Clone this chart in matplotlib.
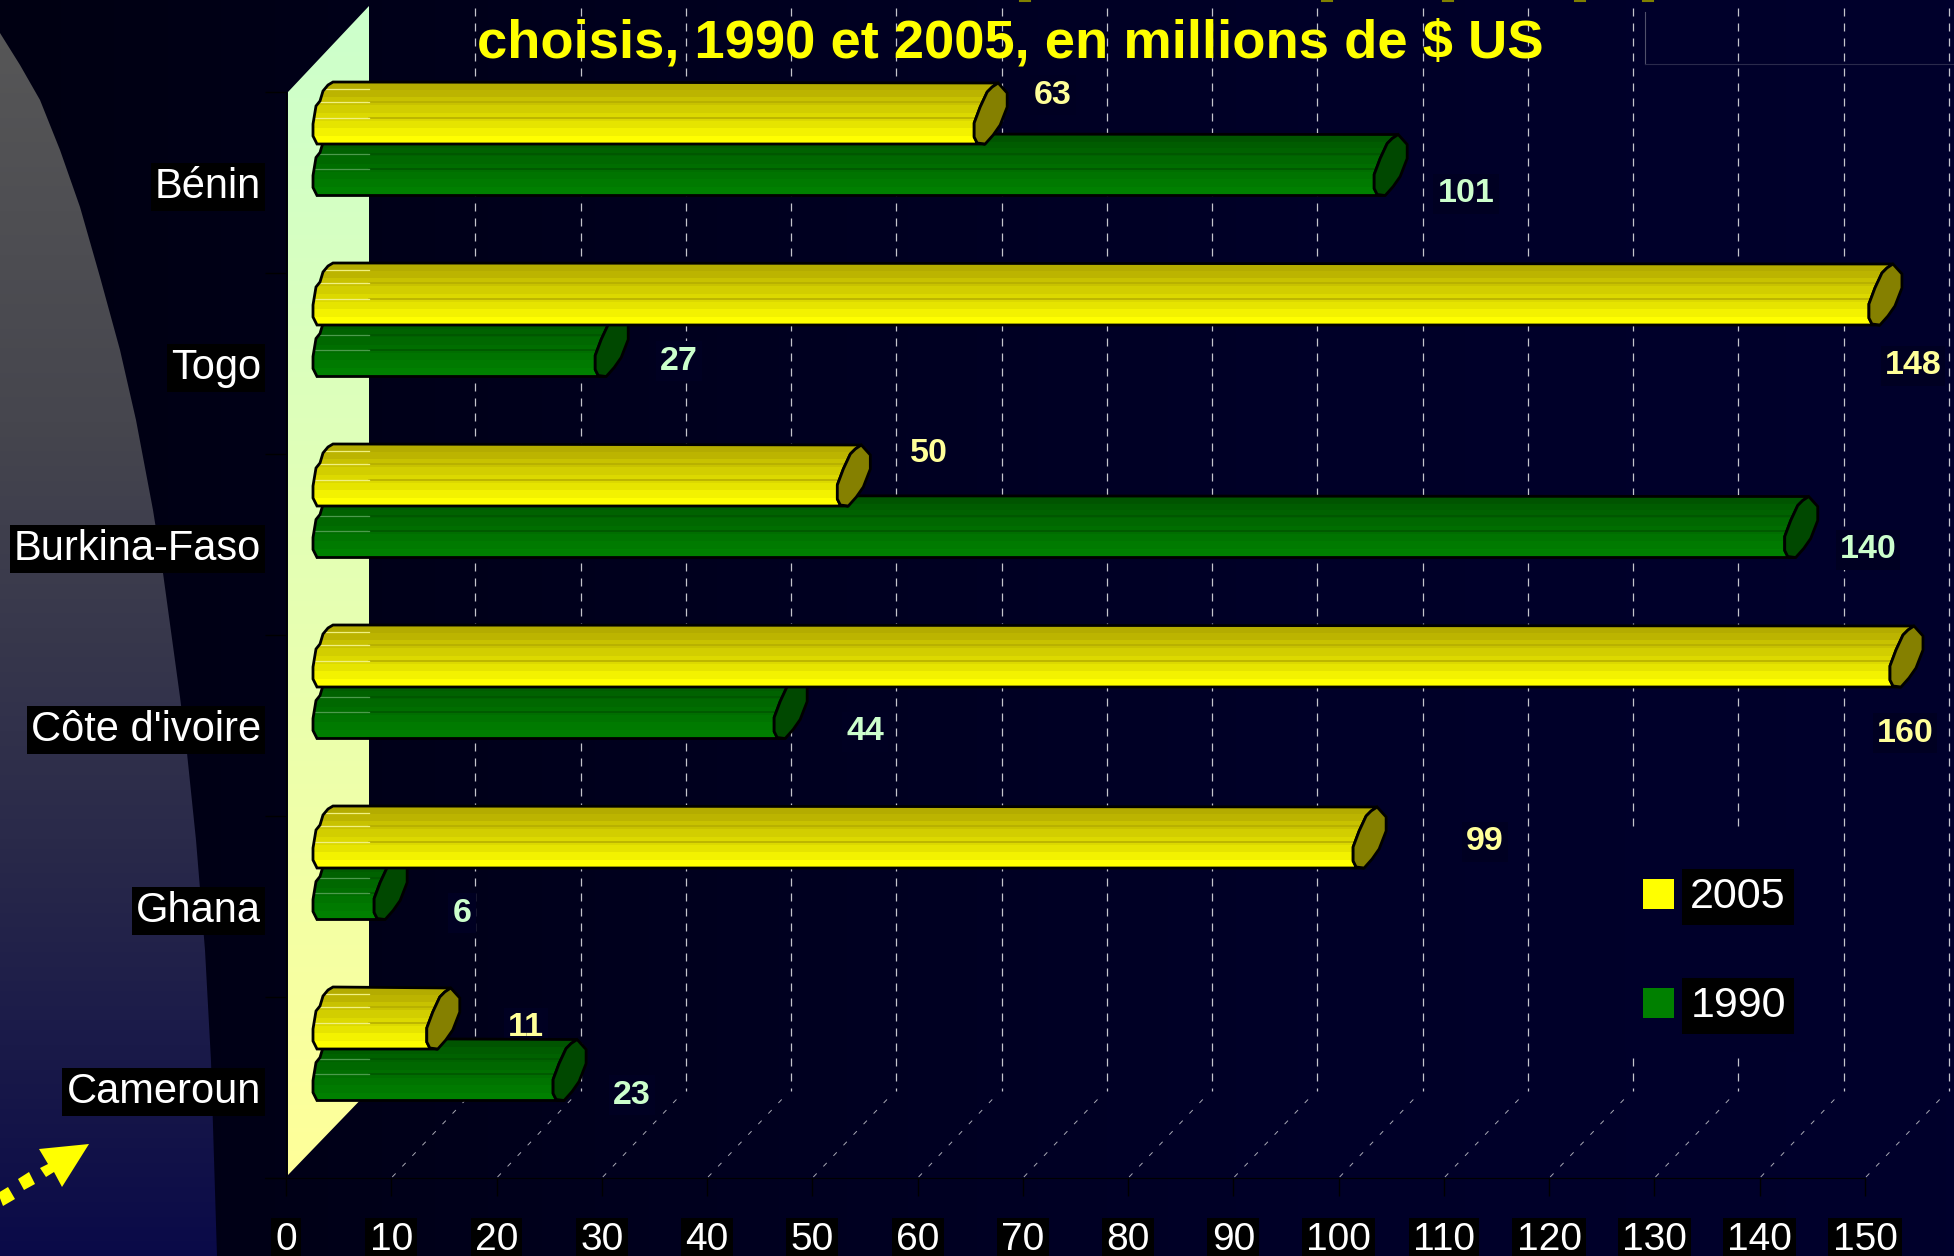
from __future__ import annotations

import matplotlib
matplotlib.use("Agg")

import matplotlib.pyplot as plt
import numpy as np
from matplotlib.colors import LinearSegmentedColormap, ListedColormap
from matplotlib.patches import Polygon
from matplotlib.ticker import FixedLocator


CATEGORIES = ["Bénin", "Togo", "Burkina-Faso", "Côte d'ivoire", "Ghana", "Cameroun"]
VALUES_2005 = [63, 148, 50, 160, 99, 11]
VALUES_1990 = [101, 27, 140, 44, 6, 23]
X_TICKS = list(range(0, 151, 10))
TITLE = "choisis, 1990 et 2005, en millions de $ US"

W, H = 1954, 1256
X0, X150 = 286, 1865
WALL_X = 288
Y_TOP, Y_BOT = 92, 1178
DEPTH_X, DEPTH_Y = 84, 86
PX_PER_UNIT = (X150 - X0) / 150
PX_PER_ROW = (Y_BOT - Y_TOP) / 6

# label centres, in pixels of the full picture
POS_2005 = [(1053, 95), (1913, 366), (929, 453), (1905, 733), (1485, 842), (526, 1028)]
POS_1990 = [(1466, 194), (679, 361), (1868, 550), (865, 732), (462, 913), (632, 1095)]

# cylinder outline, (dx, dy) in pixels from the bar's end / top
CAP = [(28, 61), (36, 62), (44, 53), (51, 43), (58, 25), (58, 11), (49, 1),
       (43, 5), (38, 10), (31, 25), (25, 41), (25, 55)]
LEFT = [(47, 0), (42, 3), (37, 9), (34, 19), (30, 24), (27, 42), (27, 54), (31, 62)]
STRIPE_LINES = [0.12, 0.33, 0.58]

YELLOWS = ["#b4ac00", "#bcb400", "#c8c200", "#d2ce00", "#dcd900", "#e6e400", "#f3f200", "#ffff00"]
GREENS = ["#005400", "#005c00", "#006200", "#006800", "#006e00", "#007400", "#007a00", "#008000"]

ARCH_EDGE = [(0, 33), (20, 65), (40, 100), (60, 150), (80, 207), (100, 277), (120, 350), (136, 420), (153, 510),
             (163, 573), (180, 697), (187, 753), (196, 840), (205, 950), (211, 1061), (217, 1256), (0, 1256)]

plt.rcParams["font.family"] = ["Liberation Sans", "DejaVu Sans"]

fig = plt.figure(figsize=(W / 100, H / 100), dpi=100)

# pixel layer behind the chart: background, grey arch, side wall, arrow
bg = fig.add_axes([0, 0, 1, 1])
bg.set_xlim(0, W)
bg.set_ylim(H, 0)
bg.axis("off")

bg_cmap = LinearSegmentedColormap.from_list("bg", ["#000012", "#00001e", "#000028", "#00002c"])
bg.imshow(np.linspace(0, 1, 256).reshape(1, -1), extent=(0, W, H, 0), cmap=bg_cmap, aspect="auto", zorder=0)

arch_cmap = LinearSegmentedColormap.from_list("arch", ["#585858", "#46464e", "#2a2a4a", "#0a0a48"])
arch_img = bg.imshow(np.linspace(0, 1, 256).reshape(-1, 1), extent=(0, 240, H, 0), cmap=arch_cmap, aspect="auto", zorder=1)
arch = Polygon(ARCH_EDGE, closed=True, transform=bg.transData, fc="none", ec="none")
bg.add_patch(arch)
arch_img.set_clip_path(arch)

wall_cmap = LinearSegmentedColormap.from_list("wall", ["#ccffcc", "#ffff99"])
wall_img = bg.imshow(np.linspace(0, 1, 256).reshape(-1, 1), extent=(WALL_X, WALL_X + DEPTH_X, Y_BOT, 6), cmap=wall_cmap,
                     aspect="auto", zorder=2)
wall = Polygon([(WALL_X, Y_TOP), (WALL_X + 81, 6), (WALL_X + 81, Y_BOT - 87), (WALL_X, Y_BOT - 3)], closed=True,
               transform=bg.transData, fc="none", ec="none")
bg.add_patch(wall)
wall_img.set_clip_path(wall)

bg.plot([1645, 1645], [12, 64], color="#50506a", lw=0.8, zorder=2)
bg.plot([1645, W], [64, 64], color="#2a2a4c", lw=0.8, zorder=2)

# bottoms of the letters of the cut-off line above the title
for x in [1025, 1327, 1448, 1580, 1648]:
    bg.plot([x - 5, x + 5], [0.5, 0.5], color="#808000", lw=1.5, zorder=2)

for shape in ([(89, 1144), (39, 1149), (48, 1164), (40, 1168), (46, 1177), (54, 1172), (62, 1187)],
              [(18, 1179), (29, 1172), (35, 1184), (24, 1190)],
              [(-2, 1193), (8, 1187), (15, 1199), (3, 1206)]):
    bg.add_patch(Polygon(shape, closed=True, fc="#ffff00", ec="none", zorder=3))

bg.set_xlim(0, W)
bg.set_ylim(H, 0)

# chart axes: front plane of the 3D box
ax = fig.add_axes([X0 / W, 1 - Y_BOT / H, (X150 - X0) / W, (Y_BOT - Y_TOP) / H])
ax.patch.set_alpha(0)
ax.set_xlim(0, 150)
ax.set_ylim(5.5, -0.5)


def dx(px):
    return px / PX_PER_UNIT


def dy(px):
    return px / PX_PER_ROW


# grid on the back wall and the floor
for tick in X_TICKS[1:]:
    ax.plot([tick + dx(DEPTH_X)] * 2, [-0.5 - dy(DEPTH_Y - 2), 5.5 - dy(DEPTH_Y + 1)], color="#c4c4cc", lw=0.9,
            dashes=(6.4, 5.6), clip_on=False, zorder=2)
    ax.plot([tick + dx(1), tick + dx(DEPTH_X - 7)], [5.5 - dy(1), 5.5 - dy(DEPTH_Y - 5)], color="#a8a8b4", lw=0.7,
            dashes=(5, 10), clip_on=False, zorder=2)


def draw_cylinder(value, top, colors, cap_color, light, order):
    # values past the end of the axis stop at the last tick
    end = min(value, X_TICKS[-1])
    height = 62
    pts = [(dx(x), top + dy(y)) for x, y in LEFT[::-1]]
    pts += [(end + dx(x), top + dy(y)) for x, y in CAP[6:] + CAP[:2]]
    outline = Polygon(pts, closed=True, transform=ax.transData)
    img = ax.imshow(np.arange(len(colors)).reshape(-1, 1), extent=(0, end + dx(60), top + dy(height), top),
                    cmap=ListedColormap(colors), aspect="auto", interpolation="nearest", zorder=order)
    img.set_clip_box(fig.bbox)
    img.set_clip_path(outline)
    for frac in STRIPE_LINES:
        line_y = top + dy(height * frac)
        line, = ax.plot([dx(83), end + dx(50)], [line_y, line_y], color=colors[0], lw=1.1, zorder=order + 0.1)
        line.set_clip_box(fig.bbox)
        line.set_clip_path(outline)
        line, = ax.plot([dx(20), dx(83)], [line_y, line_y], color=light, lw=0.9, zorder=order + 0.1)
        line.set_clip_box(fig.bbox)
        line.set_clip_path(outline)
    ax.add_patch(Polygon(pts, closed=True, fc="none", ec="black", lw=2, clip_on=False, zorder=order + 0.2))
    cap_pts = [(end + dx(x), top + dy(y)) for x, y in CAP]
    ax.add_patch(Polygon(cap_pts, closed=True, fc=cap_color, ec="black", lw=2, clip_on=False, zorder=order + 0.3))


for row in range(len(CATEGORIES)):
    draw_cylinder(VALUES_1990[row], row - dy(49), GREENS, "#004800", "#4c9a4c", 3 + row)
    draw_cylinder(VALUES_2005[row], row - dy(100.5), YELLOWS, "#858000", "#f0f080", 3.5 + row)

ax.set_xlim(0, 150)
ax.set_ylim(5.5, -0.5)

for spine in ["top", "right"]:
    ax.spines[spine].set_visible(False)
ax.spines["left"].set_color("black")
ax.spines["bottom"].set_color("black")
ax.spines["bottom"].set_bounds(-2, 150)

ax.set_xticks(X_TICKS, labels=[str(t) for t in X_TICKS])
ax.tick_params(axis="x", colors="black", length=13, width=1, pad=19, labelcolor="white", labelsize=28)
ax.yaxis.set_major_locator(FixedLocator(np.arange(-0.5, 6, 1)))
ax.set_yticks(range(len(CATEGORIES)), labels=CATEGORIES, minor=True)
ax.tick_params(axis="y", which="major", length=15, width=1, colors="black", labelleft=False)
ax.tick_params(axis="y", which="minor", length=0, pad=18, labelcolor="white", labelsize=30)
for label in ax.get_xticklabels() + ax.get_yticklabels(minor=True):
    label.set_bbox({"fc": "black", "ec": "none", "pad": 3})

ax.text(1010, 44, TITLE, color="#ffff00", fontsize=39.2, fontweight="bold", ha="center", va="center", zorder=20,
        transform=bg.transData, clip_on=False)

# value labels sit on a box of background colour, under the bars
for values, positions, color in ((VALUES_2005, POS_2005, "#ffff99"), (VALUES_1990, POS_1990, "#ccffcc")):
    for value, (x, y) in zip(values, positions):
        ax.text(x, y, str(value), color=color, fontsize=24.5, fontweight="bold", ha="center", va="center", zorder=2.5,
                transform=bg.transData, clip_on=False, bbox={"fc": "#000022", "ec": "none", "pad": 3})

# legend
ax.add_patch(Polygon([(1625, 830), (1800, 830), (1800, 1052), (1625, 1052)], closed=True, fc="#00002a", ec="none",
                     transform=bg.transData, clip_on=False, zorder=2.4))
for name, color, y in (("2005", "#ffff00", 894), ("1990", "#008000", 1003)):
    ax.add_patch(Polygon([(1643, y - 15), (1674, y - 15), (1674, y + 15), (1643, y + 15)], closed=True, fc=color,
                         ec="none", transform=bg.transData, clip_on=False, zorder=3))
    ax.text(1738, y + 3, name, color="white", fontsize=31, ha="center", va="center", zorder=20,
            transform=bg.transData, clip_on=False, bbox={"fc": "black", "ec": "none", "pad": 6})

fig.savefig("out.png", dpi=100, facecolor="#000020")
